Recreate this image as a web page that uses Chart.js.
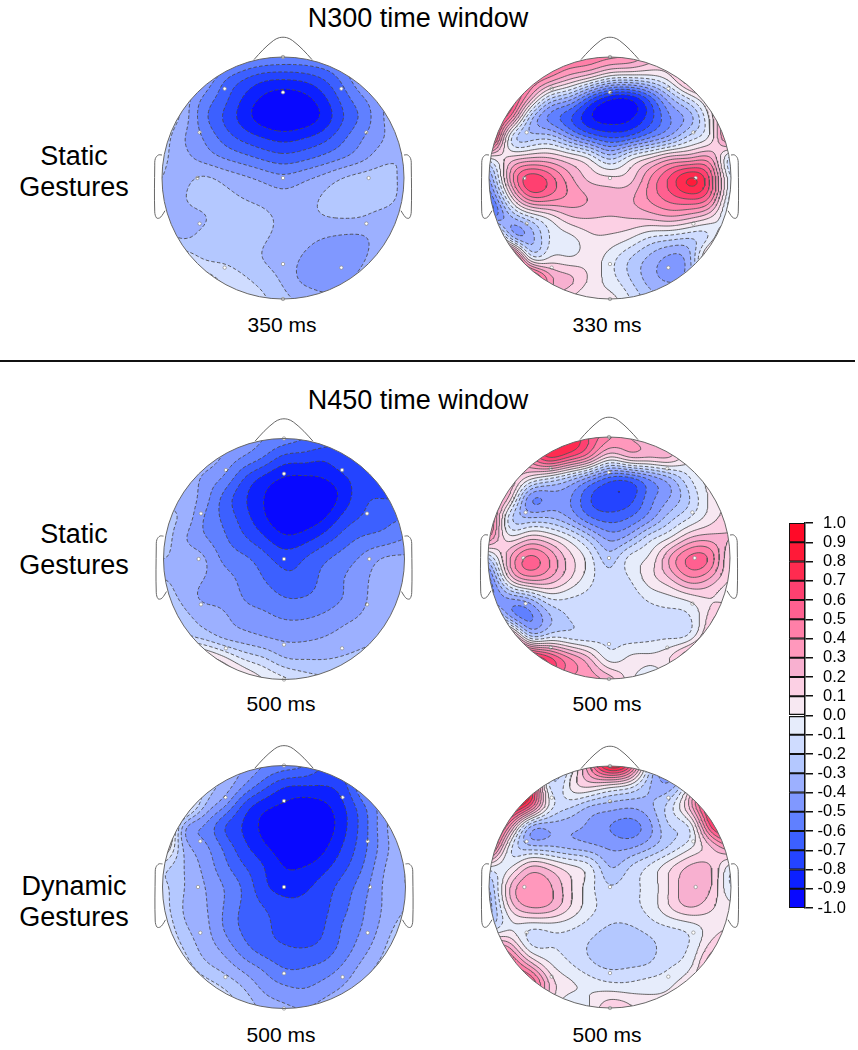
<!DOCTYPE html>
<html lang="en">
<head>
<meta charset="UTF-8" />
<title>N300 and N450 scalp maps</title>
<script src="https://cdn.jsdelivr.net/npm/chart.js"></script>
<style>
  body { margin: 0; background: #fff; }
  #page { position: relative; width: 858px; height: 1050px; overflow: hidden; font-family: "Liberation Sans", Arial, sans-serif; color: #000; }
  #page canvas { position: absolute; }
  .t { position: absolute; text-align: center; white-space: nowrap; transform: translate(-50%, -50%); }
  .title { font-size: 27px; }
  .row { font-size: 27px; }
  .ms { font-size: 21px; }
  #rule { position: absolute; left: 0; top: 360px; width: 855px; height: 2px; background: #111; }
</style>
</head>
<body>
<div id="page">
  <div class="t title" style="left:418px;top:18px">N300 time window</div>
  <div class="t title" style="left:418px;top:400px">N450 time window</div>
  <div id="rule"></div>
  <div class="t row" style="left:74px;top:156px">Static</div>
  <div class="t row" style="left:74px;top:187px">Gestures</div>
  <div class="t row" style="left:74px;top:534px">Static</div>
  <div class="t row" style="left:74px;top:565px">Gestures</div>
  <div class="t row" style="left:74px;top:886px">Dynamic</div>
  <div class="t row" style="left:74px;top:917px">Gestures</div>
  <div class="t ms" style="left:282px;top:325px">350 ms</div>
  <div class="t ms" style="left:607px;top:325px">330 ms</div>
  <div class="t ms" style="left:281px;top:704px">500 ms</div>
  <div class="t ms" style="left:607px;top:704px">500 ms</div>
  <div class="t ms" style="left:281px;top:1035px">500 ms</div>
  <div class="t ms" style="left:607px;top:1035px">500 ms</div>
</div>

<script>
// amplitude levels and the colour of each band between them
const levels = [-1.0,-0.9,-0.8,-0.7,-0.6,-0.5,-0.4,-0.3,-0.2,-0.1,0.0,0.1,0.2,0.3,0.4,0.5,0.6,0.7,0.8,0.9,1.0];
const bandColors = ["#0808ff","#0c20ff","#2444ff","#3c60ff","#6080ff","#8098ff","#9cb0ff","#b4c8ff","#cfdcff","#e6ecfb",
                    "#f7e8f2","#fcd0e4","#f8b0d0","#ff98bc","#ff7fa8","#ff6090","#ff4070","#ff2b50","#ff1a38","#ff0a28"];

// electrode sites on the unit head
const electrodeX = [0,-0.482,0.482,0,-0.689,0.689,-0.708,0.708,0,-0.689,0.689,0,-0.482,0.482,0];
const electrodeY = [1,0.738,0.738,0.708,0.377,0.377,0,0,0,-0.377,-0.377,-0.711,-0.741,-0.741,-1];

// nose and ear outline on the unit head
const noseX = [-0.24,-0.165,-0.08,-0.03,0.03,0.08,0.165,0.24];
const noseY = [0.978,1.06,1.135,1.16,1.16,1.135,1.06,0.978];
const earX = [1.0,1.03,1.055,1.06,1.06,1.045,1.02,1.0,0.975];
const earY = [0.19,0.19,0.16,0.1,-0.28,-0.33,-0.33,-0.31,-0.27];

const n300StaticA = [
[-.1,-.15,-.2,-.32,-.45,-.5,-.52,-.52,-.5,-.45,-.32,-.3,-.3],
[-.1,-.2,-.35,-.55,-.67,-.75,-.77,-.75,-.68,-.55,-.38,-.3,-.3],
[-.1,-.3,-.5,-.65,-.8,-.91,-.96,-.93,-.82,-.65,-.5,-.38,-.3],
[-.2,-.33,-.55,-.7,-.84,-.95,-1,-.97,-.87,-.7,-.56,-.4,-.32],
[-.25,-.38,-.5,-.63,-.73,-.8,-.84,-.81,-.74,-.62,-.5,-.4,-.3],
[-.28,-.36,-.43,-.5,-.56,-.62,-.66,-.63,-.57,-.5,-.42,-.33,-.3],
[-.3,-.33,-.29,-.33,-.38,-.43,-.47,-.43,-.37,-.3,-.26,-.26,-.32],
[-.32,-.31,-.26,-.27,-.3,-.33,-.36,-.34,-.29,-.25,-.25,-.26,-.33],
[-.33,-.33,-.31,-.26,-.26,-.28,-.32,-.33,-.31,-.3,-.31,-.34,-.34],
[-.25,-.3,-.27,-.25,-.26,-.29,-.33,-.37,-.4,-.42,-.41,-.34,-.3],
[-.05,-.1,-.2,-.22,-.25,-.3,-.34,-.41,-.44,-.46,-.41,-.3,-.25],
[.05,.05,-.03,-.12,-.18,-.25,-.32,-.42,-.44,-.43,-.35,-.28,-.25],
[0,0,-.03,-.06,-.1,-.18,-.27,-.33,-.38,-.36,-.3,-.27,-.25]];
const n300StaticB = [
[.5,.5,.5,.5,.5,.48,.42,.38,.25,.2,.3,.4,.4],
[.5,.5,.5,.4,.25,.12,-.05,-.08,-.05,.08,.35,.4,.4],
[.8,.7,.3,-.15,-.32,-.62,-.84,-.85,-.62,-.3,-.05,.2,.45],
[.8,.5,-.2,-.52,-.68,-.88,-.96,-.92,-.74,-.5,-.33,.05,.5],
[.9,-.02,-.25,-.24,-.42,-.6,-.7,-.65,-.5,-.35,-.15,.05,.5],
[.02,.12,.2,.2,.1,-.03,-.23,-.05,.1,.25,.3,.3,-.15],
[-.4,.28,.65,.55,.33,.17,.12,.16,.4,.62,.8,.55,-.1],
[-.6,0,.45,.45,.37,.29,.24,.28,.42,.55,.62,.45,-.15],
[-.5,-.35,-.15,.02,.17,.2,.19,.2,.22,.26,.2,.08,-.1],
[.6,-.15,-.35,-.1,-.03,.07,.07,0,-.12,-.17,-.2,-.05,.3],
[.3,.8,.05,.02,.02,.05,-.05,-.2,-.33,-.43,-.3,.25,.4],
[.5,.5,.7,.35,.22,.08,-.05,-.2,-.35,-.42,-.3,.1,.2],
[.3,.3,.3,.2,.1,0,.03,-.1,-.25,-.3,-.2,.1,.2]];
const n450StaticA = [
[-.3,-.3,-.3,-.35,-.42,-.5,-.55,-.6,-.65,-.72,-.75,-.75,-.7],
[-.25,-.3,-.33,-.42,-.52,-.62,-.74,-.76,-.78,-.72,-.72,-.75,-.75],
[-.25,-.3,-.42,-.52,-.7,-.83,-.91,-.92,-.9,-.82,-.74,-.78,-.8],
[-.3,-.33,-.45,-.63,-.78,-.9,-.98,-1,-.97,-.85,-.72,-.7,-.7],
[-.28,-.33,-.5,-.62,-.75,-.88,-.97,-.97,-.9,-.76,-.68,-.63,-.6],
[-.25,-.38,-.48,-.58,-.68,-.78,-.87,-.84,-.75,-.65,-.58,-.55,-.5],
[-.3,-.33,-.39,-.52,-.58,-.66,-.74,-.7,-.62,-.55,-.47,-.39,-.38],
[-.3,-.33,-.4,-.46,-.53,-.6,-.67,-.66,-.57,-.5,-.42,-.35,-.35],
[-.22,-.33,-.41,-.43,-.5,-.54,-.59,-.59,-.55,-.49,-.41,-.35,-.33],
[-.05,-.24,-.33,-.38,-.44,-.47,-.5,-.5,-.47,-.42,-.38,-.33,-.3],
[.1,-.1,-.2,-.29,-.34,-.38,-.41,-.41,-.39,-.36,-.33,-.29,-.25],
[.3,.3,.2,.05,-.1,-.18,-.28,-.3,-.3,-.28,-.25,-.22,-.2],
[.3,.3,.3,.25,.12,0,-.08,-.15,-.18,-.18,-.18,-.18,-.18]];
const n450StaticB = [
[.5,.5,.6,.7,.8,.6,.42,.3,.2,.15,.15,.15,.15],
[.3,.3,.45,.7,.6,.4,.1,.2,.2,.2,.05,.1,.1],
[.3,.3,.08,-.05,-.2,-.4,-.6,-.6,-.45,-.3,-.1,.05,.1],
[.4,.2,-.42,-.46,-.48,-.68,-.78,-.75,-.55,-.4,-.2,.02,.12],
[.6,-.1,-.3,-.3,-.4,-.58,-.65,-.6,-.45,-.25,-.1,.05,.15],
[.4,.05,.15,.1,-.05,-.25,-.43,-.35,-.15,0,.2,.25,.2],
[-.2,.25,.52,.4,.15,-.05,-.25,-.08,.02,.3,.52,.47,.1],
[-.55,.08,.35,.3,.12,-.06,-.17,-.1,.05,.2,.38,.3,.1],
[-.5,-.4,-.3,-.1,-.1,-.13,-.15,-.15,-.08,-.03,.04,.1,.05],
[.1,-.3,-.52,-.33,-.2,-.15,-.14,-.14,-.14,-.14,-.11,.15,.35],
[.6,.6,-.05,-.07,-.1,-.13,-.12,-.13,-.12,-.1,-.03,.3,.5],
[.8,.9,.85,.65,.42,.22,-.03,.02,.02,.1,.35,.5,.4],
[.6,.6,.6,.55,.4,.35,.25,.05,-.1,0,.1,.2,.2]];
const n450DynamicA = [
[-.1,-.15,-.2,-.3,-.4,-.5,-.55,-.6,-.7,-.65,-.5,-.4,-.3],
[.2,.1,-.2,-.33,-.5,-.66,-.78,-.8,-.8,-.72,-.48,-.38,-.3],
[.3,.1,-.28,-.48,-.72,-.86,-.92,-.95,-.92,-.8,-.6,-.42,-.3],
[.4,-.3,-.5,-.68,-.81,-.93,-1,-1,-.96,-.82,-.63,-.42,-.28],
[.2,-.3,-.47,-.62,-.77,-.88,-.97,-1,-.92,-.78,-.62,-.43,-.3],
[-.15,-.29,-.42,-.56,-.69,-.8,-.9,-.9,-.83,-.72,-.58,-.4,-.3],
[-.17,-.29,-.39,-.5,-.62,-.77,-.84,-.82,-.75,-.65,-.53,-.38,-.3],
[-.15,-.3,-.38,-.5,-.62,-.7,-.76,-.77,-.72,-.62,-.5,-.38,-.3],
[-.1,-.27,-.36,-.5,-.62,-.68,-.73,-.75,-.7,-.58,-.48,-.35,-.25],
[-.05,-.2,-.33,-.43,-.56,-.65,-.69,-.7,-.66,-.55,-.43,-.3,-.2],
[0,-.12,-.25,-.33,-.43,-.52,-.6,-.6,-.56,-.47,-.35,-.25,-.2],
[0,-.05,-.12,-.2,-.3,-.42,-.48,-.5,-.45,-.38,-.28,-.2,-.2],
[0,0,-.05,-.12,-.22,-.33,-.38,-.4,-.36,-.3,-.22,-.2,-.2]];
const n450DynamicB = [
[.3,.4,.4,-.2,-.1,.4,.85,.6,-.2,-.5,-.2,.5,.5],
[.9,.9,.8,-.1,0,.12,.05,-.05,-.3,-.35,.1,.9,.9],
[.9,.9,.6,-.03,-.18,-.3,-.35,-.38,-.32,-.14,.25,.8,.9],
[.9,.4,-.27,-.36,-.37,-.42,-.5,-.54,-.42,-.2,-.05,.6,.8],
[.7,-.02,-.27,-.29,-.33,-.37,-.42,-.42,-.32,-.18,-.02,.2,.4],
[0,-.02,.2,.15,.03,-.08,-.3,-.2,-.08,.08,.22,.2,-.05],
[-.3,.18,.38,.32,.12,-.06,-.19,-.13,-.06,.12,.28,.2,-.1],
[-.35,.1,.3,.27,.1,-.06,-.15,-.13,-.06,.1,.2,.12,.03],
[-.2,-.02,-.07,-.06,-.08,-.15,-.21,-.21,-.15,-.1,-.05,.05,.1],
[.4,.3,-.05,-.1,-.14,-.21,-.26,-.28,-.23,-.14,-.08,.15,.25],
[.7,.6,.35,.05,-.07,-.16,-.21,-.2,-.17,-.1,0,.3,.4],
[.5,.5,.6,.2,.02,-.02,-.04,-.05,-.03,0,.12,.2,.2],
[.1,.1,.1,.05,-.1,0,.18,.12,.03,.05,.08,.1,.1]];

const heads = [
  { id: "h1", cx: 283, cy: 178, r: 121, values: n300StaticA },
  { id: "h2", cx: 609.5, cy: 178, r: 121, values: n300StaticB },
  { id: "h3", cx: 283.5, cy: 558.5, r: 120.5, values: n450StaticA },
  { id: "h4", cx: 609, cy: 558, r: 121, values: n450StaticB },
  { id: "h5", cx: 283.5, cy: 887, r: 121.5, values: n450DynamicA },
  { id: "h6", cx: 609.5, cy: 887, r: 121, values: n450DynamicB }
];

const page = document.getElementById("page");
const half = 150;

function hexRgb(h) {
  return [parseInt(h.slice(1, 3), 16), parseInt(h.slice(3, 5), 16), parseInt(h.slice(5, 7), 16)];
}
const bandRgb = bandColors.map(hexRgb);

// cubic spline through the table: solve for the B-spline weights
function splineLine(a) {
  const n = a.length, c = new Array(n), d = new Array(n), out = new Array(n);
  const diag = (i) => (i === 0 || i === n - 1 ? 5 : 4);
  c[0] = 1 / diag(0);
  d[0] = 6 * a[0] / diag(0);
  for (let i = 1; i < n; i++) {
    const q = diag(i) - c[i - 1];
    c[i] = 1 / q;
    d[i] = (6 * a[i] - d[i - 1]) / q;
  }
  out[n - 1] = d[n - 1];
  for (let i = n - 2; i >= 0; i--) out[i] = d[i] - c[i] * out[i + 1];
  return out;
}
function splineWeights(g) {
  const rows = g.map(splineLine);
  const res = rows.map((r) => r.slice());
  for (let i = 0; i < 13; i++) {
    const col = splineLine(rows.map((r) => r[i]));
    col.forEach((v, j) => { res[j][i] = v; });
  }
  return res;
}
function basis(t) {
  const s = 1 - t;
  return [s * s * s / 6, (3 * t * t * t - 6 * t * t + 4) / 6, (-3 * t * t * t + 3 * t * t + 3 * t + 1) / 6, t * t * t / 6];
}

// smooth reading of the 13 x 13 table at a point on the unit head
function fieldAt(w, u, v) {
  const gx = Math.min(11.999, Math.max(0, (u + 1) * 6));
  const gy = Math.min(11.999, Math.max(0, (1 - v) * 6));
  const i = Math.floor(gx), j = Math.floor(gy);
  const bx = basis(gx - i), by = basis(gy - j);
  let z = 0;
  for (let b = 0; b < 4; b++) {
    const r = w[Math.min(12, Math.max(0, j + b - 1))];
    for (let a = 0; a < 4; a++) z += by[b] * bx[a] * r[Math.min(12, Math.max(0, i + a - 1))];
  }
  return z;
}

const meshN = 130, meshLo = -1.02, meshStep = 2.04 / meshN;
function meshValues(w) {
  const vals = [];
  for (let j = 0; j <= meshN; j++) {
    const r = [];
    for (let i = 0; i <= meshN; i++) r.push(fieldAt(w, meshLo + i * meshStep, meshLo + j * meshStep));
    vals.push(r);
  }
  return vals;
}

// marching squares, joined into polylines so the dashes run along the line
function contourLines(vals, level) {
  const n = meshN, lo = meshLo, step = meshStep;
  const pts = new Map(), links = new Map();
  const cross = (key, x1, y1, a, x2, y2, b) => {
    if (!pts.has(key)) {
      const t = (level - a) / (b - a);
      pts.set(key, { x: x1 + t * (x2 - x1), y: y1 + t * (y2 - y1) });
    }
    return key;
  };
  const link = (p, q) => {
    if (!links.has(p)) links.set(p, []);
    if (!links.has(q)) links.set(q, []);
    links.get(p).push(q);
    links.get(q).push(p);
  };
  for (let j = 0; j < n; j++) {
    for (let i = 0; i < n; i++) {
      const x0 = lo + i * step, x1 = x0 + step, y0 = lo + j * step, y1 = y0 + step;
      const a = vals[j][i], b = vals[j][i + 1], c = vals[j + 1][i + 1], d = vals[j + 1][i];
      const hits = [];
      if ((a >= level) !== (b >= level)) hits.push(cross("h" + i + "_" + j, x0, y0, a, x1, y0, b));
      if ((b >= level) !== (c >= level)) hits.push(cross("v" + (i + 1) + "_" + j, x1, y0, b, x1, y1, c));
      if ((d >= level) !== (c >= level)) hits.push(cross("h" + i + "_" + (j + 1), x0, y1, d, x1, y1, c));
      if ((a >= level) !== (d >= level)) hits.push(cross("v" + i + "_" + j, x0, y0, a, x0, y1, d));
      if (hits.length === 2) link(hits[0], hits[1]);
      if (hits.length === 4) { link(hits[0], hits[1]); link(hits[2], hits[3]); }
    }
  }
  const seen = new Set(), lines = [];
  const walk = (start) => {
    const line = [pts.get(start)];
    seen.add(start);
    let cur = start;
    for (;;) {
      const next = links.get(cur).find((k) => !seen.has(k));
      if (!next) break;
      seen.add(next);
      line.push(pts.get(next));
      cur = next;
    }
    if (cur !== start && links.get(start).includes(cur)) line.push(pts.get(start));
    lines.push(line);
  };
  for (const [k, l] of links) if (l.length === 1 && !seen.has(k)) walk(k);
  for (const k of links.keys()) if (!seen.has(k)) walk(k);
  return lines;
}

function scalpPath(chart) {
  const sx = chart.scales.x, sy = chart.scales.y, ctx = chart.ctx;
  ctx.beginPath();
  ctx.arc(sx.getPixelForValue(0), sy.getPixelForValue(0), sx.getPixelForValue(1) - sx.getPixelForValue(0), 0, Math.PI * 2);
}

// fills the bands and clips the contour lines to the scalp
const scalpPlugin = {
  id: "scalp",
  beforeDatasetsDraw(chart) {
    const sx = chart.scales.x, sy = chart.scales.y, ctx = chart.ctx;
    const weights = chart.options.plugins.scalp.weights;
    const w = chart.width, h = chart.height;
    const off = document.createElement("canvas");
    off.width = w; off.height = h;
    const octx = off.getContext("2d");
    const img = octx.createImageData(w, h);
    for (let py = 0; py < h; py++) {
      const v = sy.getValueForPixel(py + 0.5);
      for (let px = 0; px < w; px++) {
        const u = sx.getValueForPixel(px + 0.5);
        if (u * u + v * v > 1.03) continue;
        const z = fieldAt(weights, u, v);
        const band = Math.min(19, Math.max(0, Math.floor((z + 1) * 10)));
        const k = (py * w + px) * 4;
        img.data[k] = bandRgb[band][0];
        img.data[k + 1] = bandRgb[band][1];
        img.data[k + 2] = bandRgb[band][2];
        img.data[k + 3] = 255;
      }
    }
    octx.putImageData(img, 0, 0);
    ctx.save();
    scalpPath(chart);
    ctx.clip();
    ctx.drawImage(off, 0, 0);
    ctx.restore();
  },
  beforeDatasetDraw(chart, args) {
    if (!chart.data.datasets[args.index].contour) return;
    chart.ctx.save();
    scalpPath(chart);
    chart.ctx.clip();
  },
  afterDatasetDraw(chart, args) {
    if (chart.data.datasets[args.index].contour) chart.ctx.restore();
  },
  afterDatasetsDraw(chart) {
    const ctx = chart.ctx;
    ctx.save();
    ctx.strokeStyle = "#666";
    ctx.lineWidth = 1;
    scalpPath(chart);
    ctx.stroke();
    ctx.restore();
  }
};

function outline(xs, ys, sign) {
  return {
    data: xs.map((x, i) => ({ x: x * sign, y: ys[i] })),
    showLine: true, pointRadius: 0, borderColor: "#666", borderWidth: 1, tension: 0.35, clip: false
  };
}

heads.forEach((head) => {
  const cv = document.createElement("canvas");
  cv.width = half * 2; cv.height = half * 2;
  cv.style.left = head.cx - half + "px";
  cv.style.top = head.cy - half + "px";
  cv.style.width = half * 2 + "px";
  cv.style.height = half * 2 + "px";
  page.appendChild(cv);

  const weights = splineWeights(head.values);
  const mesh = meshValues(weights);
  const sets = [];
  levels.forEach((lv) => {
    if (lv === -1 || lv === 1) return;
    contourLines(mesh, lv).forEach((line) => {
      sets.push({
        contour: true, data: line, showLine: true, pointRadius: 0, tension: 0,
        borderColor: lv < 0 ? "#4a4a4a" : "#555", borderWidth: 0.9,
        borderDash: lv < 0 ? [3.5, 2.2] : []
      });
    });
  });
  sets.push(outline(noseX, noseY, 1));
  sets.push(outline(earX, earY, 1));
  sets.push(outline(earX, earY, -1));
  sets.push({
    data: electrodeX.map((x, i) => ({ x: x, y: electrodeY[i] })),
    showLine: false, pointRadius: 1.7, pointBackgroundColor: "#fff", pointBorderColor: "#8a8a8a", pointBorderWidth: 0.7, clip: false
  });

  const range = half / head.r;
  new Chart(cv, {
    type: "scatter",
    data: { datasets: sets },
    plugins: [scalpPlugin],
    options: {
      responsive: false, animation: false, events: [],
      layout: { padding: 0, autoPadding: false },
      plugins: { legend: { display: false }, tooltip: { enabled: false }, scalp: { weights: weights } },
      scales: {
        x: { type: "linear", display: false, min: -range, max: range },
        y: { type: "linear", display: false, min: -range, max: range }
      }
    }
  });
});

// colour bar
const barCanvas = document.createElement("canvas");
barCanvas.width = 72; barCanvas.height = 420;
barCanvas.style.left = "779px";
barCanvas.style.top = "505px";
barCanvas.style.width = "72px";
barCanvas.style.height = "420px";
page.appendChild(barCanvas);

new Chart(barCanvas, {
  type: "bar",
  data: {
    labels: [""],
    datasets: bandColors.map((c, i) => ({
      data: [[levels[i], levels[i + 1]]],
      backgroundColor: c, borderColor: "#111", borderWidth: 1.3, borderSkipped: false,
      barPercentage: 1, categoryPercentage: 1
    }))
  },
  options: {
    responsive: false, animation: false, events: [],
    layout: { padding: { left: 10, right: 5, top: 18, bottom: 17 }, autoPadding: false },
    plugins: { legend: { display: false }, tooltip: { enabled: false } },
    scales: {
      x: { stacked: true, display: false },
      y: {
        position: "right", min: -1, max: 1,
        afterBuildTicks: (s) => { s.ticks = levels.map((value) => ({ value })); },
        afterFit: (s) => { s.width = 41; },
        border: { color: "#111", width: 1.5 },
        grid: { drawOnChartArea: false, drawTicks: true, tickLength: 8, color: "#111", lineWidth: 1.5 },
        ticks: {
          autoSkip: false, color: "#000", padding: 2, crossAlign: "far",
          font: { family: "Liberation Sans", size: 16.5 },
          callback: (v) => v.toFixed(1)
        }
      }
    }
  }
});
</script>
</body>
</html>
